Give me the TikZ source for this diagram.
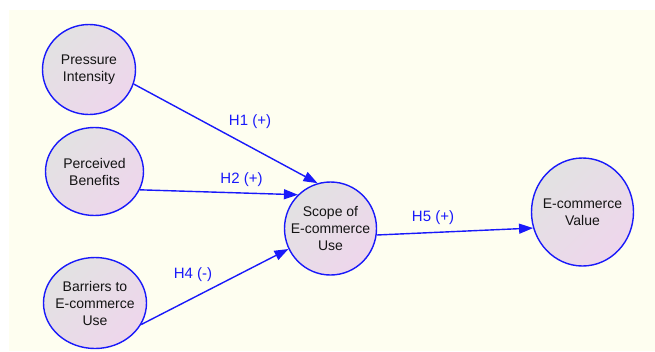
\documentclass[tikz,border=0pt]{standalone}
\usepackage{fontspec}
\setmainfont{Liberation Sans}
\usetikzlibrary{shapes.geometric,arrows.meta}
\definecolor{bgc}{RGB}{254,254,240}
\definecolor{edgeblue}{RGB}{25,25,250}
\definecolor{fillgray}{RGB}{226,226,226}
\definecolor{fillpink}{RGB}{238,214,236}
\definecolor{txt}{RGB}{20,20,20}
\tikzset{
  construct/.style={ellipse, draw=edgeblue, line width=1.4pt, inner sep=-40pt,
    top color=fillgray, bottom color=fillpink, shading angle=45,
    text=txt, align=center, font=\fontsize{14}{17}\selectfont},
  link/.style={draw=edgeblue, line width=1.4pt, -{Triangle[length=14pt,width=10pt]}},
  hyp/.style={text=edgeblue, font=\fontsize{15}{18}\selectfont, inner sep=0pt}
}
\begin{document}
\begin{tikzpicture}[x=1pt,y=-1pt]
\useasboundingbox (0,0) rectangle (655,351);
\fill[bgc] (9,10) rectangle (655,351);
\node[construct, minimum width=93pt, minimum height=90pt] (pi) at (89,69.5) {Pressure\\Intensity};
\node[construct, minimum width=98pt, minimum height=88pt] (pb) at (94.5,171.5) {Perceived\\Benefits};
\node[construct, minimum width=103pt, minimum height=91pt] (ba) at (95,303) {Barriers to\\E-commerce\\Use};
\node[construct, minimum width=92pt, minimum height=93pt] (sc) at (330.5,228.5) {Scope of\\E-commerce\\Use};
\node[construct, minimum width=102pt, minimum height=108pt] (va) at (582.5,212) {E-commerce\\Value};
\draw[link] (pi.-18) -- (sc.106);
\draw[link] (pb.-22) -- (sc.134);
\draw[link] (ba.-25) -- (sc.206);
\draw[link] (sc.-8) -- (va.198);
\node[hyp] (h1) at (250,121.5) {H1 (+)};
\node[hyp] (h2) at (241.5,180) {H2 (+)};
\node[hyp] (h4) at (193,275) {H4 (-)};
\node[hyp] (h5) at (433,217.5) {H5 (+)};
\end{tikzpicture}
\end{document}
